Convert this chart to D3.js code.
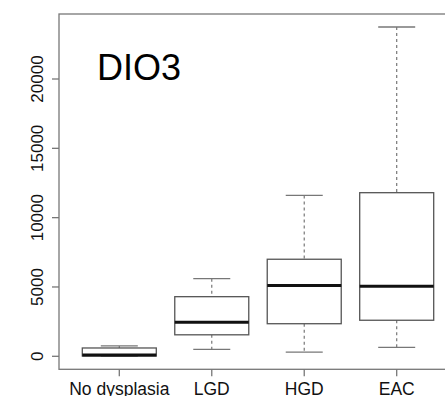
<!DOCTYPE html>
<html>
<head>
<meta charset="utf-8" />
<title>DIO3 boxplot</title>
<script src="https://d3js.org/d3.v7.min.js"></script>
<style>
  body { margin: 0; background: #fff; overflow: hidden; }
  text { font-family: "Liberation Sans", Arial, sans-serif; }
</style>
</head>
<body>
<script>
const categories = ["No dysplasia", "LGD", "HGD", "EAC"];
const whiskerLow = [0, 500, 300, 650];
const q1 = [20, 1550, 2350, 2600];
const median = [100, 2450, 5100, 5050];
const q3 = [600, 4300, 7000, 11800];
const whiskerHigh = [750, 5600, 11600, 23750];
const yTicks = [0, 5000, 10000, 15000, 20000];

const width = 445, height = 396;
const svg = d3.select("body").append("svg")
  .attr("width", width).attr("height", height);

// plot region (right side runs past the window)
const plotLeft = 59, plotTop = 14, plotBottom = 369.3, plotRight = 490;

const x = d3.scalePoint()
  .domain(categories)
  .range([119.3, 396.7]);

const y = d3.scaleLinear()
  .domain([0, 20000])
  .range([356.3, 79]);

const boxW = 74;
const grey = "#777";

// frame
svg.append("rect")
  .attr("x", plotLeft).attr("y", plotTop)
  .attr("width", plotRight - plotLeft).attr("height", plotBottom - plotTop)
  .attr("fill", "none").attr("stroke", grey).attr("stroke-width", 1.3);

// y axis ticks and labels
yTicks.forEach(t => {
  svg.append("line")
    .attr("x1", plotLeft - 7).attr("x2", plotLeft)
    .attr("y1", y(t)).attr("y2", y(t))
    .attr("stroke", grey).attr("stroke-width", 1.3);
  svg.append("text")
    .attr("transform", `translate(42.5,${y(t)}) rotate(-90)`)
    .attr("text-anchor", "middle")
    .attr("font-size", 17)
    .attr("fill", "#111")
    .text(t);
});

// x ticks and labels
categories.forEach(c => {
  svg.append("line")
    .attr("x1", x(c)).attr("x2", x(c))
    .attr("y1", plotBottom).attr("y2", plotBottom + 7)
    .attr("stroke", grey).attr("stroke-width", 1.3);
  svg.append("text")
    .attr("x", x(c)).attr("y", 395)
    .attr("text-anchor", "middle")
    .attr("font-size", 17.5)
    .attr("fill", "#111")
    .text(c);
});

// boxes
const g = svg.selectAll("g.box")
  .data(categories)
  .join("g").attr("class", "box");

g.each(function (c, i) {
  const s = d3.select(this);
  const cx = x(c);
  // whiskers
  s.append("line")
    .attr("x1", cx).attr("x2", cx)
    .attr("y1", y(whiskerHigh[i])).attr("y2", y(q3[i]))
    .attr("stroke", grey).attr("stroke-width", 1.2)
    .attr("stroke-dasharray", "3,3");
  s.append("line")
    .attr("x1", cx).attr("x2", cx)
    .attr("y1", y(q1[i])).attr("y2", y(whiskerLow[i]))
    .attr("stroke", grey).attr("stroke-width", 1.2)
    .attr("stroke-dasharray", "3,3");
  // caps
  [whiskerHigh[i], whiskerLow[i]].forEach(v => {
    s.append("line")
      .attr("x1", cx - boxW / 4).attr("x2", cx + boxW / 4)
      .attr("y1", y(v)).attr("y2", y(v))
      .attr("stroke", grey).attr("stroke-width", 1.3);
  });
  // box
  s.append("rect")
    .attr("x", cx - boxW / 2).attr("width", boxW)
    .attr("y", y(q3[i])).attr("height", y(q1[i]) - y(q3[i]))
    .attr("fill", "#fff").attr("stroke", "#555").attr("stroke-width", 1.3);
  // median
  s.append("line")
    .attr("x1", cx - boxW / 2).attr("x2", cx + boxW / 2)
    .attr("y1", y(median[i])).attr("y2", y(median[i]))
    .attr("stroke", "#111").attr("stroke-width", 3);
});

// title inside the plot
svg.append("text")
  .attr("x", 97).attr("y", 80)
  .attr("font-size", 36)
  .attr("fill", "#000")
  .text("DIO3");
</script>
</body>
</html>
